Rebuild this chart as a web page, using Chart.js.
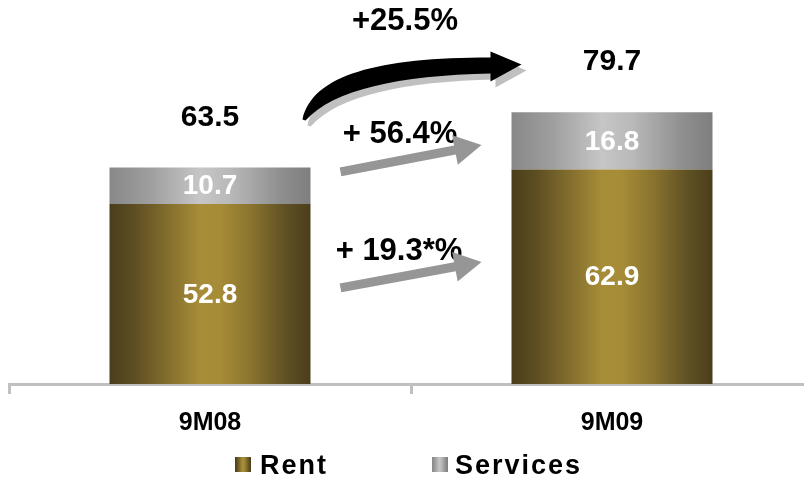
<!DOCTYPE html>
<html>
<head>
<meta charset="utf-8">
<script src="https://cdn.jsdelivr.net/npm/chart.js@4.4.1/dist/chart.umd.min.js"></script>
<style>
  html, body { margin: 0; padding: 0; overflow: hidden; background: #ffffff; }
  #wrap { width: 820px; height: 479px; }
</style>
</head>
<body>
<div id="wrap"><canvas id="c" width="820" height="479"></canvas></div>
<script>
// Revenue split by period
const categories = ['9M08', '9M09'];
const rent = [52.8, 62.9];
const services = [10.7, 16.8];
const totals = [63.5, 79.7];
const seriesNames = ['Rent', 'Services'];
const growthTotal = '+25.5%';
const growthServices = '+ 56.4%';
const growthRent = '+ 19.3*%';

const FONT = '"Liberation Sans", Arial, sans-serif';

const goldStops = [
  [0, '#4a3e1b'], [0.12, '#5c4d22'], [0.3, '#85702e'], [0.45, '#a78d38'],
  [0.55, '#a68c37'], [0.7, '#8a742f'], [0.88, '#5f5024'], [1, '#4a3e1b']
];
const greyStops = [
  [0, '#888888'], [0.2, '#9e9e9e'], [0.45, '#c6c6c6'], [0.6, '#b9b9b9'],
  [0.85, '#8f8f8f'], [1, '#7e7e7e']
];

function hGradient(ctx, x0, x1, stops) {
  const g = ctx.createLinearGradient(x0, 0, x1, 0);
  stops.forEach(s => g.addColorStop(s[0], s[1]));
  return g;
}

function barFill(stops) {
  return function (context) {
    const chart = context.chart;
    const area = chart.chartArea;
    if (!area) return stops[3][1];
    const xs = chart.scales.x;
    const cx = xs.getPixelForValue(context.dataIndex);
    const w = (area.width / categories.length) * 0.5;
    return hGradient(chart.ctx, cx - w / 2, cx + w / 2, stops);
  };
}

// Straight block arrow from tail to tip
function blockArrow(ctx, tx, ty, px, py, shaftHalf, headLen, headHalf, color) {
  const dx = px - tx, dy = py - ty;
  const len = Math.hypot(dx, dy);
  const ux = dx / len, uy = dy / len;
  const nx = -uy, ny = ux;
  const hx = px - ux * headLen, hy = py - uy * headLen;
  ctx.beginPath();
  ctx.moveTo(tx + nx * shaftHalf, ty + ny * shaftHalf);
  ctx.lineTo(hx + nx * shaftHalf, hy + ny * shaftHalf);
  ctx.lineTo(hx + nx * headHalf, hy + ny * headHalf);
  ctx.lineTo(px, py);
  ctx.lineTo(hx - nx * headHalf, hy - ny * headHalf);
  ctx.lineTo(hx - nx * shaftHalf, hy - ny * shaftHalf);
  ctx.lineTo(tx - nx * shaftHalf, ty - ny * shaftHalf);
  ctx.closePath();
  ctx.fillStyle = color;
  ctx.fill();
}

// Curved growth arrow, starting at (sx, sy)
function curvedArrow(ctx, sx, sy, color) {
  const p = (dx, dy) => [sx + dx, sy + dy];
  ctx.beginPath();
  ctx.moveTo(...p(0, 0));
  ctx.bezierCurveTo(...p(10, -45), ...p(76, -62), ...p(188, -62));
  ctx.lineTo(...p(188, -68));
  ctx.lineTo(...p(219, -55));
  ctx.lineTo(...p(188, -38));
  ctx.lineTo(...p(188, -46));
  ctx.bezierCurveTo(...p(96, -44), ...p(31, -30), ...p(3, 1));
  ctx.closePath();
  ctx.fillStyle = color;
  ctx.fill();
}

const labelsPlugin = {
  id: 'barLabels',
  afterDatasetsDraw(chart) {
    const ctx = chart.ctx;
    ctx.save();
    ctx.textAlign = 'center';
    ctx.textBaseline = 'middle';
    // segment values
    chart.data.datasets.forEach((ds, di) => {
      const meta = chart.getDatasetMeta(di);
      meta.data.forEach((el, i) => {
        ctx.fillStyle = '#ffffff';
        ctx.font = 'bold 28px ' + FONT;
        ctx.fillText(ds.data[i].toFixed(1), el.x, (el.y + el.base) / 2 + 1);
      });
    });
    // stack totals
    const ys = chart.scales.y;
    const topMeta = chart.getDatasetMeta(chart.data.datasets.length - 1);
    topMeta.data.forEach((el, i) => {
      ctx.fillStyle = '#000000';
      ctx.font = 'bold 30px ' + FONT;
      ctx.fillText(totals[i].toFixed(1), el.x, ys.getPixelForValue(totals[i]) - 50);
    });

    // growth annotations between the two bars
    const b1 = topMeta.data[0], b2 = topMeta.data[1];
    const x1r = b1.x + b1.width / 2;
    const x2l = b2.x - b2.width / 2;
    const midX = (x1r + x2l) / 2;

    ctx.fillStyle = '#000000';
    ctx.font = 'bold 31px ' + FONT;
    ctx.fillText(growthTotal, midX - 6, ys.getPixelForValue(106.2));
    ctx.fillText(growthServices, midX - 11, ys.getPixelForValue(73.3));
    ctx.fillText(growthRent, midX - 12, ys.getPixelForValue(39.0));

    // curved arrow for the total, with its shadow
    const sx = x1r - 8, sy = ys.getPixelForValue(totals[0]) - 48;
    curvedArrow(ctx, sx + 5, sy + 6, '#c0c0c0');
    curvedArrow(ctx, sx, sy, '#000000');

    // straight arrows for each component
    blockArrow(ctx, x1r + 30, ys.getPixelForValue(62.2), x2l - 30, ys.getPixelForValue(70.1), 4.5, 27, 15, '#969696');
    blockArrow(ctx, x1r + 30, ys.getPixelForValue(28.2), x2l - 30, ys.getPixelForValue(35.8), 4.5, 27, 15, '#969696');
    ctx.restore();
  }
};

const legendPlugin = {
  id: 'bottomLegend',
  afterDraw(chart) {
    const ctx = chart.ctx;
    ctx.save();
    const items = [
      { name: seriesNames[0], box: 235, text: 260, stops: goldStops },
      { name: seriesNames[1], box: 432, text: 455, stops: greyStops }
    ];
    items.forEach(it => {
      ctx.fillStyle = hGradient(ctx, it.box, it.box + 16, it.stops);
      ctx.fillRect(it.box, 457, 16, 15);
      ctx.fillStyle = '#000000';
      ctx.font = 'bold 27px ' + FONT;
      ctx.textAlign = 'left';
      ctx.textBaseline = 'alphabetic';
      if ('letterSpacing' in ctx) ctx.letterSpacing = '2px';
      ctx.fillText(it.name, it.text, 474);
      if ('letterSpacing' in ctx) ctx.letterSpacing = '0px';
    });
    ctx.restore();
  }
};

new Chart(document.getElementById('c'), {
  type: 'bar',
  data: {
    labels: categories,
    datasets: [
      { label: seriesNames[0], data: rent, backgroundColor: barFill(goldStops), borderWidth: 0,
        barPercentage: 0.5, categoryPercentage: 1.0 },
      { label: seriesNames[1], data: services, backgroundColor: barFill(greyStops), borderWidth: 0,
        barPercentage: 0.5, categoryPercentage: 1.0 }
    ]
  },
  options: {
    responsive: false,
    animation: false,
    events: [],
    layout: { padding: { left: 9, right: 7, top: 0, bottom: 0 } },
    plugins: { legend: { display: false }, tooltip: { enabled: false } },
    scales: {
      x: {
        stacked: true,
        offset: true,
        grid: { display: true, offset: true, drawOnChartArea: false, drawTicks: true,
                tickLength: 10, color: '#c0c0c0', lineWidth: 3 },
        border: { display: true, color: '#c0c0c0', width: 3 },
        ticks: { color: '#000000', padding: 14, font: { family: FONT, size: 25, weight: 'bold' } },
        afterFit(scale) { scale.height = 95; }
      },
      y: {
        stacked: true,
        display: false,
        min: 0,
        max: 112.6
      }
    }
  },
  plugins: [labelsPlugin, legendPlugin]
});
</script>
</body>
</html>
